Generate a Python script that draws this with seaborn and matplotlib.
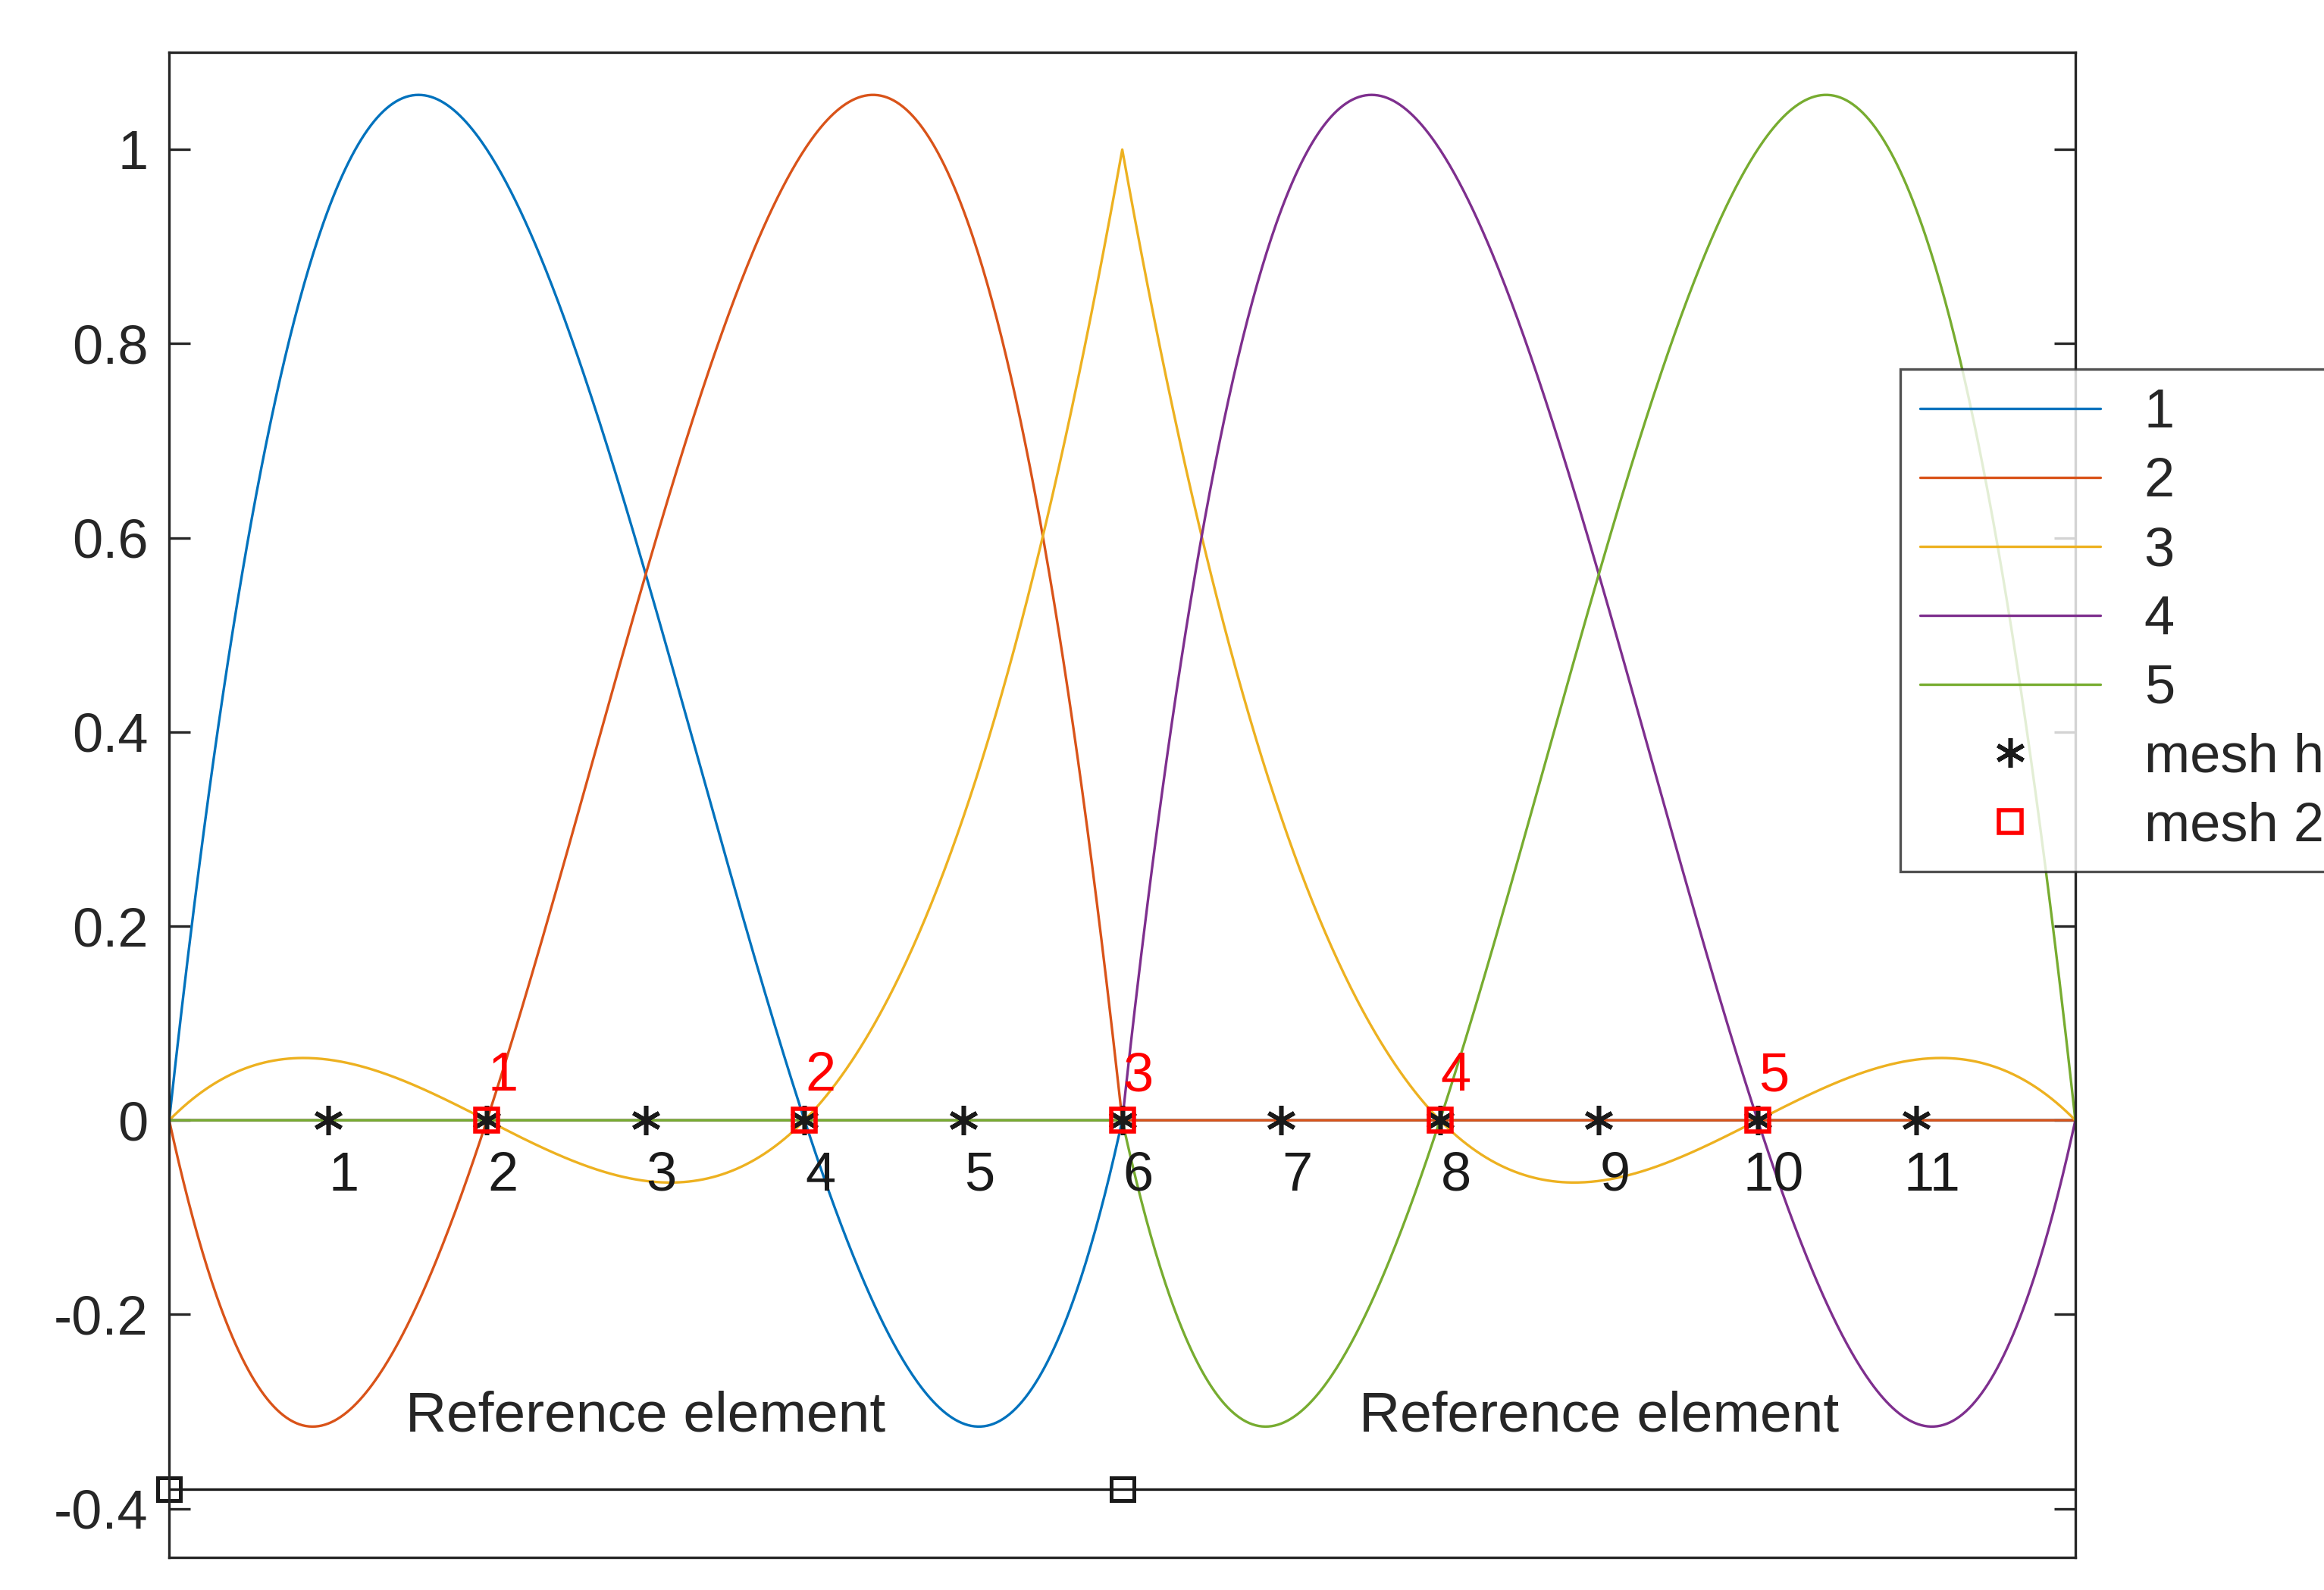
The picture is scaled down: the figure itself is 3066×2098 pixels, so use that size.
import numpy as np
import matplotlib
matplotlib.use("Agg")
import matplotlib.pyplot as plt
import seaborn as sns
import pandas as pd

sns.set_theme(style="white")
plt.rcParams['font.family'] = ['Arial', 'Liberation Sans', 'DejaVu Sans']

# Data: coarse nodes of two reference elements (cubic Lagrange)
elem1_nodes = [0, 2, 4, 6]
elem2_nodes = [6, 8, 10, 12]
series_names = ["1", "2", "3", "4", "5"]
colors = ["#0072BD", "#D95319", "#EDB120", "#7E2F8E", "#77AC30"]
series_pieces = {
    "1": [(0, 2)],
    "2": [(0, 4)],
    "3": [(0, 6), (1, 6)],
    "4": [(1, 8)],
    "5": [(1, 10)],
}
mesh_h = [1, 2, 3, 4, 5, 6, 7, 8, 9, 10, 11]
mesh_2h = [2, 4, 6, 8, 10]
ref_squares = [0, 6]
ref_line_y = -0.38

def lagrange(nodes, k, x):
    out = np.ones_like(x)
    for n in nodes:
        if n != k:
            out *= (x - n) / (k - n)
    return out

x = np.linspace(0, 12, 1201)
elements = [elem1_nodes, elem2_nodes]
rows = []
for name in series_names:
    y = np.zeros_like(x)
    for ei, k in series_pieces[name]:
        nd = elements[ei]
        m = (x >= nd[0]) & (x <= nd[-1])
        y[m] = lagrange(nd, k, x[m])
    rows.append(pd.DataFrame({"x": x, "y": y, "s": name}))
df = pd.concat(rows)

FS = 26
fig = plt.figure(figsize=(15.33, 10.49), dpi=200)
ax = fig.add_axes([0.0728, 0.0207, 0.8202, 0.9463])
sns.lineplot(data=df, x="x", y="y", hue="s", palette=colors, linewidth=1.2,
             ax=ax, legend=False, sort=False, estimator=None)
ax.plot(mesh_h, [0]*len(mesh_h), ls="none", marker=(6, 2, 0), color="k",
        markersize=14, markeredgewidth=2.0)
ax.plot(mesh_2h, [0]*len(mesh_2h), ls="none", marker="s", mfc="none", mec="red",
        markersize=11, markeredgewidth=2.0)
for v in mesh_h:
    ax.text(v + 0.1, -0.058, str(v), fontsize=FS, ha="center", va="center", color="k")
for i, v in enumerate(mesh_2h):
    ax.text(v + 0.1, 0.045, str(i + 1), fontsize=FS, ha="center", va="center", color="red")
ax.plot([0, 12], [ref_line_y, ref_line_y], color="k", lw=1.2)
ax.plot(ref_squares, [ref_line_y]*2, ls="none", marker="s", mfc="none", mec="k",
        markersize=11, markeredgewidth=1.8, clip_on=False)
ax.text(3, -0.305, "Reference element", fontsize=FS + 1, ha="center", va="center")
ax.text(9, -0.305, "Reference element", fontsize=FS + 1, ha="center", va="center")

ax.set_xlim(0, 12)
ax.set_ylim(-0.45, 1.1)
ax.set_xticks([])
yt = [-0.4, -0.2, 0, 0.2, 0.4, 0.6, 0.8, 1]
ax.set_yticks(yt)
ax.set_yticklabels(["-0.4", "-0.2", "0", "0.2", "0.4", "0.6", "0.8", "1"])
ax.tick_params(axis="y", direction="in", length=10, right=True, left=True,
               labelsize=FS, width=1.2, colors="#262626", pad=10)
ax.set_xlabel(""); ax.set_ylabel("")
for sp in ax.spines.values():
    sp.set_color("#262626"); sp.set_linewidth(1.2)

from matplotlib.lines import Line2D
handles = [Line2D([], [], color=c, lw=1.2) for c in colors]
handles += [Line2D([], [], ls="none", marker=(6, 2, 0), color="k", markersize=14, markeredgewidth=2.0),
            Line2D([], [], ls="none", marker="s", mfc="none", mec="red", markersize=11, markeredgewidth=2.0)]
labels = series_names + ["mesh h", "mesh 2h"]
leg = fig.legend(handles, labels, loc="upper left", bbox_to_anchor=(0.806, 0.785),
                 fontsize=FS, frameon=True, fancybox=False, handlelength=3.3,
                 labelspacing=0.33, borderpad=0.35, handletextpad=0.8)
leg.get_frame().set_edgecolor("#262626")
leg.get_frame().set_linewidth(1.2)
fig.savefig("out.png", dpi=200, facecolor="white")
